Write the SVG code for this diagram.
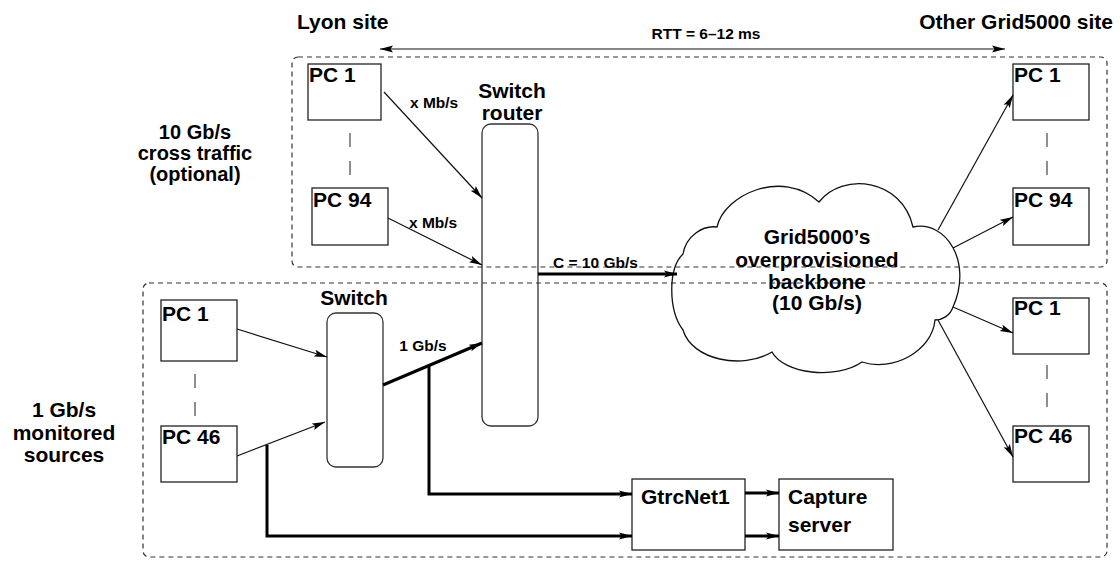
<svg xmlns="http://www.w3.org/2000/svg" width="1120" height="562" viewBox="0 0 1120 562">
<style>
text{font-family:"Liberation Sans",Arial,Helvetica,sans-serif;font-weight:bold;fill:#000}
.big{font-size:21px}
.blk{font-size:20px}
.sm{font-size:15.5px}
.mid{text-anchor:middle}
.box{fill:none;stroke:#222;stroke-width:1.3}
.rbox{fill:none;stroke:#333;stroke-width:1.3}
.zone{fill:none;stroke:#333;stroke-width:1.2;stroke-dasharray:5 4}
.dots{stroke:#555;stroke-width:1.3;stroke-dasharray:14 14}
.thin{fill:none;stroke:#111;stroke-width:1.2}
.thick{fill:none;stroke:#000;stroke-width:3}
</style>
<defs>
<marker id="ah" markerUnits="userSpaceOnUse" markerWidth="14" markerHeight="8" refX="13" refY="4" orient="auto">
<path d="M0,0.5 L13,4 L0,7.5 L2.5,4 z" fill="#000"/>
</marker>
<marker id="ahs" markerUnits="userSpaceOnUse" markerWidth="14" markerHeight="8" refX="13" refY="4" orient="auto-start-reverse">
<path d="M0,0.5 L13,4 L0,7.5 L2.5,4 z" fill="#000"/>
</marker>
</defs>

<g id="zones">
<rect class="zone" x="292" y="57" width="815" height="210" rx="6"/>
<rect class="zone" x="143" y="283" width="964" height="274" rx="6"/>
</g>

<g id="labels">
<text class="big" x="297" y="29">Lyon site</text>
<text class="big" x="1113" y="29" text-anchor="end">Other Grid5000 site</text>
<text class="sm mid" x="706" y="39">RTT = 6–12 ms</text>
<text class="blk mid" x="195" y="139">10 Gb/s</text>
<text class="blk mid" x="195" y="160">cross traffic</text>
<text class="blk mid" x="195" y="181">(optional)</text>
<text class="big mid" x="64" y="417">1 Gb/s</text>
<text class="big mid" x="64" y="440">monitored</text>
<text class="big mid" x="64" y="462">sources</text>
<text class="sm" x="410" y="108">x Mb/s</text>
<text class="sm" x="409" y="228">x Mb/s</text>
<text class="sm mid" x="423" y="351">1 Gb/s</text>
<text class="sm" x="553" y="268">C = 10 Gb/s</text>
</g>

<g id="cloud">
<path d="M683,330 C668,310 668,268 683,254 C686,236 703,225 717,227 C724,195 782,168 819,202 C842,172 902,178 913,227 C946,220 973,262 953,307 C950,316 942,320 935,320 C932,352 892,372 862,362 C836,380 784,374 772,352 C742,370 692,360 683,330 Z" fill="none" stroke="#111" stroke-width="1.3"/>
<text class="big mid" x="817" y="244">Grid5000’s</text>
<text class="big mid" x="817" y="267">overprovisioned</text>
<text class="big mid" x="817" y="289">backbone</text>
<text class="big mid" x="817" y="310">(10 Gb/s)</text>
</g>

<g id="lyon-pc1"><rect class="box" x="308" y="64" width="73" height="56"/><text class="big" x="309" y="82">PC 1</text></g>
<g id="lyon-pc94"><rect class="box" x="312" y="188" width="76" height="57"/><text class="big" x="313" y="207">PC 94</text></g>
<g id="switch-router"><rect class="rbox" x="482" y="124" width="56" height="302" rx="9"/><text class="big mid" x="512" y="98">Switch</text><text class="big mid" x="512" y="120">router</text></g>
<g id="switch"><rect class="rbox" x="327" y="313" width="56" height="154" rx="9"/><text class="big mid" x="354" y="305">Switch</text></g>
<g id="src-pc1"><rect class="box" x="161" y="300" width="76" height="61"/><text class="big" x="162" y="321">PC 1</text></g>
<g id="src-pc46"><rect class="box" x="161" y="426" width="76" height="56"/><text class="big" x="162" y="444">PC 46</text></g>
<g id="gtrcnet1"><rect class="box" x="632" y="479" width="113" height="71"/><text class="big" x="641" y="504">GtrcNet1</text></g>
<g id="capture"><rect class="box" x="779" y="479" width="114" height="71"/><text class="big" x="788" y="504">Capture</text><text class="big" x="788" y="532">server</text></g>
<g id="remote-pc1a"><rect class="box" x="1013" y="64" width="76" height="56"/><text class="big" x="1014" y="82">PC 1</text></g>
<g id="remote-pc94"><rect class="box" x="1013" y="188" width="76" height="57"/><text class="big" x="1014" y="207">PC 94</text></g>
<g id="remote-pc1b"><rect class="box" x="1013" y="298" width="76" height="56"/><text class="big" x="1014" y="315">PC 1</text></g>
<g id="remote-pc46"><rect class="box" x="1013" y="426" width="76" height="56"/><text class="big" x="1014" y="443">PC 46</text></g>

<g id="connectors">
<line class="dots" x1="350" y1="133" x2="350" y2="177"/>
<line class="dots" x1="195" y1="374" x2="195" y2="421"/>
<line class="dots" x1="1047" y1="133" x2="1047" y2="177"/>
<line class="dots" x1="1047" y1="365" x2="1047" y2="410"/>
<line class="thin" x1="380" y1="49" x2="1005" y2="49" marker-start="url(#ahs)" marker-end="url(#ah)"/>
<line class="thin" x1="384" y1="92" x2="482" y2="198" marker-end="url(#ah)"/>
<line class="thin" x1="388" y1="218" x2="482" y2="265" marker-end="url(#ah)"/>
<line class="thin" x1="237" y1="329" x2="327" y2="357" marker-end="url(#ah)"/>
<line class="thin" x1="237" y1="456" x2="325" y2="422" marker-end="url(#ah)"/>
<line class="thick" x1="383" y1="385" x2="482" y2="343" marker-end="url(#ah)"/>
<line class="thick" x1="538" y1="274" x2="677" y2="274" marker-end="url(#ah)"/>
<polyline class="thick" points="429,366 429,494 632,494" marker-end="url(#ah)"/>
<polyline class="thick" points="267,445 267,536 632,536" marker-end="url(#ah)"/>
<line class="thick" x1="745" y1="493" x2="779" y2="493" marker-end="url(#ah)"/>
<line class="thick" x1="745" y1="536" x2="779" y2="536" marker-end="url(#ah)"/>
<line class="thin" x1="938" y1="230" x2="1013" y2="95" marker-end="url(#ah)"/>
<line class="thin" x1="953" y1="248" x2="1013" y2="217" marker-end="url(#ah)"/>
<line class="thin" x1="953" y1="307" x2="1013" y2="333" marker-end="url(#ah)"/>
<line class="thin" x1="938" y1="320" x2="1013" y2="457" marker-end="url(#ah)"/>
</g>
</svg>
